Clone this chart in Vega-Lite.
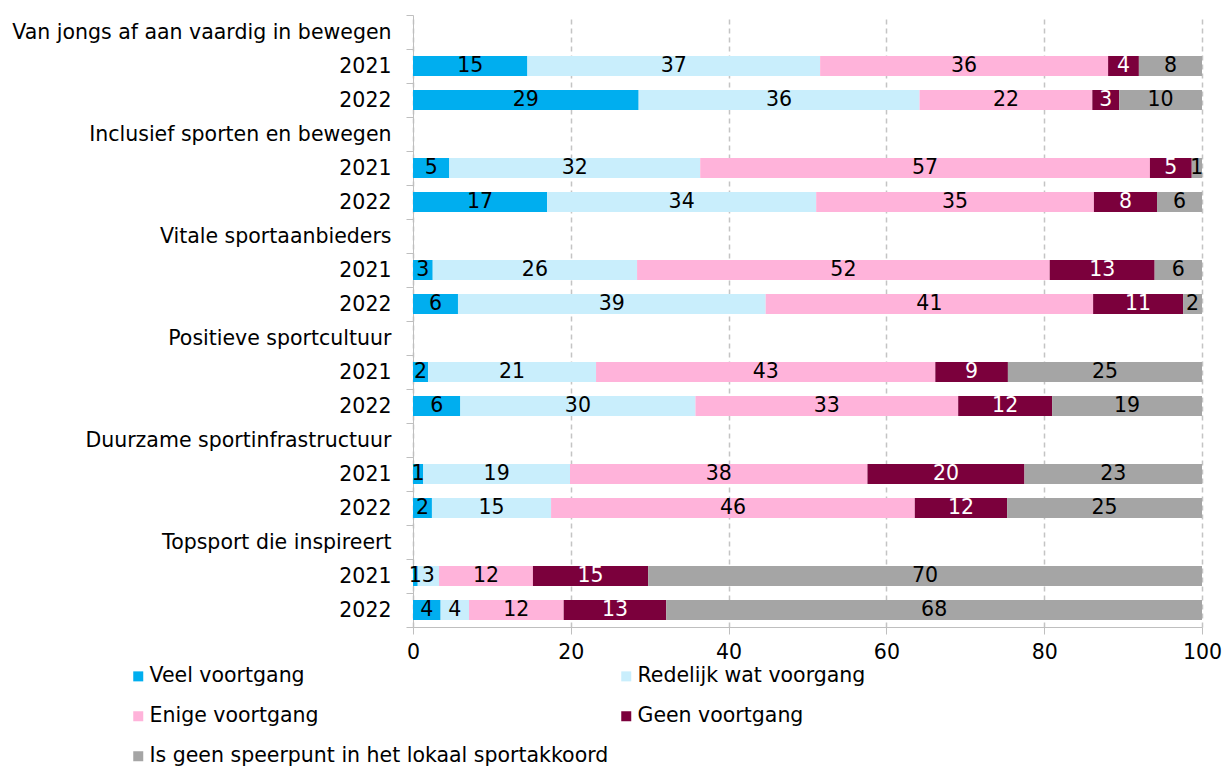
{
  "$schema": "https://vega.github.io/schema/vega-lite/v6.json",
  "width": 789,
  "height": 612,
  "autosize": {"type": "none"},
  "padding": {"left": 413, "top": 15, "right": 23, "bottom": 140},
  "background": "white",
  "config": {
    "view": {"stroke": null},
    "font": "DejaVu Sans"
  },
  "data": {
    "values": [
      {"rij": "Van jongs af aan vaardig in bewegen|2021", "categorie": "Veel voortgang", "volgorde": 1, "waarde": 14.5, "label": 15},
      {"rij": "Van jongs af aan vaardig in bewegen|2021", "categorie": "Redelijk wat voorgang", "volgorde": 2, "waarde": 37.1, "label": 37},
      {"rij": "Van jongs af aan vaardig in bewegen|2021", "categorie": "Enige voortgang", "volgorde": 3, "waarde": 36.5, "label": 36},
      {"rij": "Van jongs af aan vaardig in bewegen|2021", "categorie": "Geen voortgang", "volgorde": 4, "waarde": 3.9, "label": 4},
      {"rij": "Van jongs af aan vaardig in bewegen|2021", "categorie": "Is geen speerpunt in het lokaal sportakkoord", "volgorde": 5, "waarde": 8.0, "label": 8},
      {"rij": "Van jongs af aan vaardig in bewegen|2022", "categorie": "Veel voortgang", "volgorde": 1, "waarde": 28.6, "label": 29},
      {"rij": "Van jongs af aan vaardig in bewegen|2022", "categorie": "Redelijk wat voorgang", "volgorde": 2, "waarde": 35.6, "label": 36},
      {"rij": "Van jongs af aan vaardig in bewegen|2022", "categorie": "Enige voortgang", "volgorde": 3, "waarde": 21.9, "label": 22},
      {"rij": "Van jongs af aan vaardig in bewegen|2022", "categorie": "Geen voortgang", "volgorde": 4, "waarde": 3.4, "label": 3},
      {"rij": "Van jongs af aan vaardig in bewegen|2022", "categorie": "Is geen speerpunt in het lokaal sportakkoord", "volgorde": 5, "waarde": 10.5, "label": 10},
      {"rij": "Inclusief sporten en bewegen|2021", "categorie": "Veel voortgang", "volgorde": 1, "waarde": 4.6, "label": 5},
      {"rij": "Inclusief sporten en bewegen|2021", "categorie": "Redelijk wat voorgang", "volgorde": 2, "waarde": 31.8, "label": 32},
      {"rij": "Inclusief sporten en bewegen|2021", "categorie": "Enige voortgang", "volgorde": 3, "waarde": 57.0, "label": 57},
      {"rij": "Inclusief sporten en bewegen|2021", "categorie": "Geen voortgang", "volgorde": 4, "waarde": 5.3, "label": 5},
      {"rij": "Inclusief sporten en bewegen|2021", "categorie": "Is geen speerpunt in het lokaal sportakkoord", "volgorde": 5, "waarde": 1.3, "label": 1},
      {"rij": "Inclusief sporten en bewegen|2022", "categorie": "Veel voortgang", "volgorde": 1, "waarde": 17.0, "label": 17},
      {"rij": "Inclusief sporten en bewegen|2022", "categorie": "Redelijk wat voorgang", "volgorde": 2, "waarde": 34.1, "label": 34},
      {"rij": "Inclusief sporten en bewegen|2022", "categorie": "Enige voortgang", "volgorde": 3, "waarde": 35.2, "label": 35},
      {"rij": "Inclusief sporten en bewegen|2022", "categorie": "Geen voortgang", "volgorde": 4, "waarde": 8.0, "label": 8},
      {"rij": "Inclusief sporten en bewegen|2022", "categorie": "Is geen speerpunt in het lokaal sportakkoord", "volgorde": 5, "waarde": 5.7, "label": 6},
      {"rij": "Vitale sportaanbieders|2021", "categorie": "Veel voortgang", "volgorde": 1, "waarde": 2.5, "label": 3},
      {"rij": "Vitale sportaanbieders|2021", "categorie": "Redelijk wat voorgang", "volgorde": 2, "waarde": 25.9, "label": 26},
      {"rij": "Vitale sportaanbieders|2021", "categorie": "Enige voortgang", "volgorde": 3, "waarde": 52.3, "label": 52},
      {"rij": "Vitale sportaanbieders|2021", "categorie": "Geen voortgang", "volgorde": 4, "waarde": 13.3, "label": 13},
      {"rij": "Vitale sportaanbieders|2021", "categorie": "Is geen speerpunt in het lokaal sportakkoord", "volgorde": 5, "waarde": 6.0, "label": 6},
      {"rij": "Vitale sportaanbieders|2022", "categorie": "Veel voortgang", "volgorde": 1, "waarde": 5.7, "label": 6},
      {"rij": "Vitale sportaanbieders|2022", "categorie": "Redelijk wat voorgang", "volgorde": 2, "waarde": 39.0, "label": 39},
      {"rij": "Vitale sportaanbieders|2022", "categorie": "Enige voortgang", "volgorde": 3, "waarde": 41.5, "label": 41},
      {"rij": "Vitale sportaanbieders|2022", "categorie": "Geen voortgang", "volgorde": 4, "waarde": 11.4, "label": 11},
      {"rij": "Vitale sportaanbieders|2022", "categorie": "Is geen speerpunt in het lokaal sportakkoord", "volgorde": 5, "waarde": 2.4, "label": 2},
      {"rij": "Positieve sportcultuur|2021", "categorie": "Veel voortgang", "volgorde": 1, "waarde": 1.9, "label": 2},
      {"rij": "Positieve sportcultuur|2021", "categorie": "Redelijk wat voorgang", "volgorde": 2, "waarde": 21.3, "label": 21},
      {"rij": "Positieve sportcultuur|2021", "categorie": "Enige voortgang", "volgorde": 3, "waarde": 43.0, "label": 43},
      {"rij": "Positieve sportcultuur|2021", "categorie": "Geen voortgang", "volgorde": 4, "waarde": 9.2, "label": 9},
      {"rij": "Positieve sportcultuur|2021", "categorie": "Is geen speerpunt in het lokaal sportakkoord", "volgorde": 5, "waarde": 24.6, "label": 25},
      {"rij": "Positieve sportcultuur|2022", "categorie": "Veel voortgang", "volgorde": 1, "waarde": 6.0, "label": 6},
      {"rij": "Positieve sportcultuur|2022", "categorie": "Redelijk wat voorgang", "volgorde": 2, "waarde": 29.8, "label": 30},
      {"rij": "Positieve sportcultuur|2022", "categorie": "Enige voortgang", "volgorde": 3, "waarde": 33.3, "label": 33},
      {"rij": "Positieve sportcultuur|2022", "categorie": "Geen voortgang", "volgorde": 4, "waarde": 11.9, "label": 12},
      {"rij": "Positieve sportcultuur|2022", "categorie": "Is geen speerpunt in het lokaal sportakkoord", "volgorde": 5, "waarde": 19.0, "label": 19},
      {"rij": "Duurzame sportinfrastructuur|2021", "categorie": "Veel voortgang", "volgorde": 1, "waarde": 1.3, "label": 1},
      {"rij": "Duurzame sportinfrastructuur|2021", "categorie": "Redelijk wat voorgang", "volgorde": 2, "waarde": 18.6, "label": 19},
      {"rij": "Duurzame sportinfrastructuur|2021", "categorie": "Enige voortgang", "volgorde": 3, "waarde": 37.7, "label": 38},
      {"rij": "Duurzame sportinfrastructuur|2021", "categorie": "Geen voortgang", "volgorde": 4, "waarde": 19.9, "label": 20},
      {"rij": "Duurzame sportinfrastructuur|2021", "categorie": "Is geen speerpunt in het lokaal sportakkoord", "volgorde": 5, "waarde": 22.5, "label": 23},
      {"rij": "Duurzame sportinfrastructuur|2022", "categorie": "Veel voortgang", "volgorde": 1, "waarde": 2.4, "label": 2},
      {"rij": "Duurzame sportinfrastructuur|2022", "categorie": "Redelijk wat voorgang", "volgorde": 2, "waarde": 15.1, "label": 15},
      {"rij": "Duurzame sportinfrastructuur|2022", "categorie": "Enige voortgang", "volgorde": 3, "waarde": 46.1, "label": 46},
      {"rij": "Duurzame sportinfrastructuur|2022", "categorie": "Geen voortgang", "volgorde": 4, "waarde": 11.7, "label": 12},
      {"rij": "Duurzame sportinfrastructuur|2022", "categorie": "Is geen speerpunt in het lokaal sportakkoord", "volgorde": 5, "waarde": 24.7, "label": 25},
      {"rij": "Topsport die inspireert|2021", "categorie": "Veel voortgang", "volgorde": 1, "waarde": 0.6, "label": 1},
      {"rij": "Topsport die inspireert|2021", "categorie": "Redelijk wat voorgang", "volgorde": 2, "waarde": 2.7, "label": 3},
      {"rij": "Topsport die inspireert|2021", "categorie": "Enige voortgang", "volgorde": 3, "waarde": 11.9, "label": 12},
      {"rij": "Topsport die inspireert|2021", "categorie": "Geen voortgang", "volgorde": 4, "waarde": 14.6, "label": 15},
      {"rij": "Topsport die inspireert|2021", "categorie": "Is geen speerpunt in het lokaal sportakkoord", "volgorde": 5, "waarde": 70.2, "label": 70},
      {"rij": "Topsport die inspireert|2022", "categorie": "Veel voortgang", "volgorde": 1, "waarde": 3.5, "label": 4},
      {"rij": "Topsport die inspireert|2022", "categorie": "Redelijk wat voorgang", "volgorde": 2, "waarde": 3.6, "label": 4},
      {"rij": "Topsport die inspireert|2022", "categorie": "Enige voortgang", "volgorde": 3, "waarde": 12.0, "label": 12},
      {"rij": "Topsport die inspireert|2022", "categorie": "Geen voortgang", "volgorde": 4, "waarde": 13.0, "label": 13},
      {"rij": "Topsport die inspireert|2022", "categorie": "Is geen speerpunt in het lokaal sportakkoord", "volgorde": 5, "waarde": 67.9, "label": 68}
    ]
  },
  "transform": [
    {"stack": "waarde", "groupby": ["rij"], "sort": [{"field": "volgorde", "order": "ascending"}], "as": ["x0", "x1"]},
    {"calculate": "(datum.x0 + datum.x1) / 2", "as": "xmid"}
  ],
  "encoding": {
    "y": {
      "field": "rij",
      "type": "nominal",
      "title": null,
      "scale": {
        "domain": [
          "Van jongs af aan vaardig in bewegen",
          "Van jongs af aan vaardig in bewegen|2021",
          "Van jongs af aan vaardig in bewegen|2022",
          "Inclusief sporten en bewegen",
          "Inclusief sporten en bewegen|2021",
          "Inclusief sporten en bewegen|2022",
          "Vitale sportaanbieders",
          "Vitale sportaanbieders|2021",
          "Vitale sportaanbieders|2022",
          "Positieve sportcultuur",
          "Positieve sportcultuur|2021",
          "Positieve sportcultuur|2022",
          "Duurzame sportinfrastructuur",
          "Duurzame sportinfrastructuur|2021",
          "Duurzame sportinfrastructuur|2022",
          "Topsport die inspireert",
          "Topsport die inspireert|2021",
          "Topsport die inspireert|2022"
        ],
        "paddingInner": 0,
        "paddingOuter": 0
      },
      "axis": {
        "labelExpr": "indexof(datum.label, '|') >= 0 ? split(datum.label, '|')[1] : datum.label",
        "labelFontSize": 20.5,
        "labelColor": "#000000",
        "labelPadding": 15,
        "tickSize": 7,
        "tickColor": "#bfbfbf",
        "domainColor": "#bfbfbf",
        "tickBand": "extent",
        "grid": false,
        "labelLimit": 0
      }
    }
  },
  "layer": [
    {
      "mark": {"type": "bar", "size": 20},
      "encoding": {
        "x": {
          "field": "x0",
          "type": "quantitative",
          "title": null,
          "scale": {"domain": [0, 100], "nice": false},
          "axis": {
            "values": [0, 20, 40, 60, 80, 100],
            "labelFontSize": 20.5,
            "labelColor": "#000000",
            "labelPadding": 8,
            "labelFlush": false,
            "tickSize": 7,
            "tickColor": "#bfbfbf",
            "domainColor": "#bfbfbf",
            "grid": true,
            "gridColor": "#c4c4c4",
            "gridDash": [5, 4],
            "gridWidth": 1.5
          }
        },
        "x2": {"field": "x1"},
        "color": {
          "field": "categorie",
          "type": "nominal",
          "sort": ["Veel voortgang", "Redelijk wat voorgang", "Enige voortgang", "Geen voortgang", "Is geen speerpunt in het lokaal sportakkoord"],
          "scale": {
            "domain": ["Veel voortgang", "Redelijk wat voorgang", "Enige voortgang", "Geen voortgang", "Is geen speerpunt in het lokaal sportakkoord"],
            "range": ["#00aeef", "#c9eefc", "#ffb3da", "#7b003c", "#a5a5a5"]
          },
          "legend": {
            "title": null,
            "orient": "none",
            "direction": "horizontal",
            "legendX": -285,
            "legendY": 651,
            "columns": 2,
            "columnPadding": 7,
            "rowPadding": 19,
            "symbolType": "square",
            "symbolSize": 100,
            "symbolStrokeWidth": 0,
            "labelFontSize": 20.5,
            "labelColor": "#000000",
            "labelOffset": 1,
            "labelLimit": 0
          }
        }
      }
    },
    {
      "mark": {"type": "text", "fontSize": 20.5, "align": "center", "baseline": "middle"},
      "encoding": {
        "x": {"field": "xmid", "type": "quantitative"},
        "text": {"field": "label", "type": "quantitative"},
        "color": {
          "condition": {"test": "datum.categorie === 'Geen voortgang'", "value": "#ffffff"},
          "value": "#000000"
        }
      }
    }
  ]
}
